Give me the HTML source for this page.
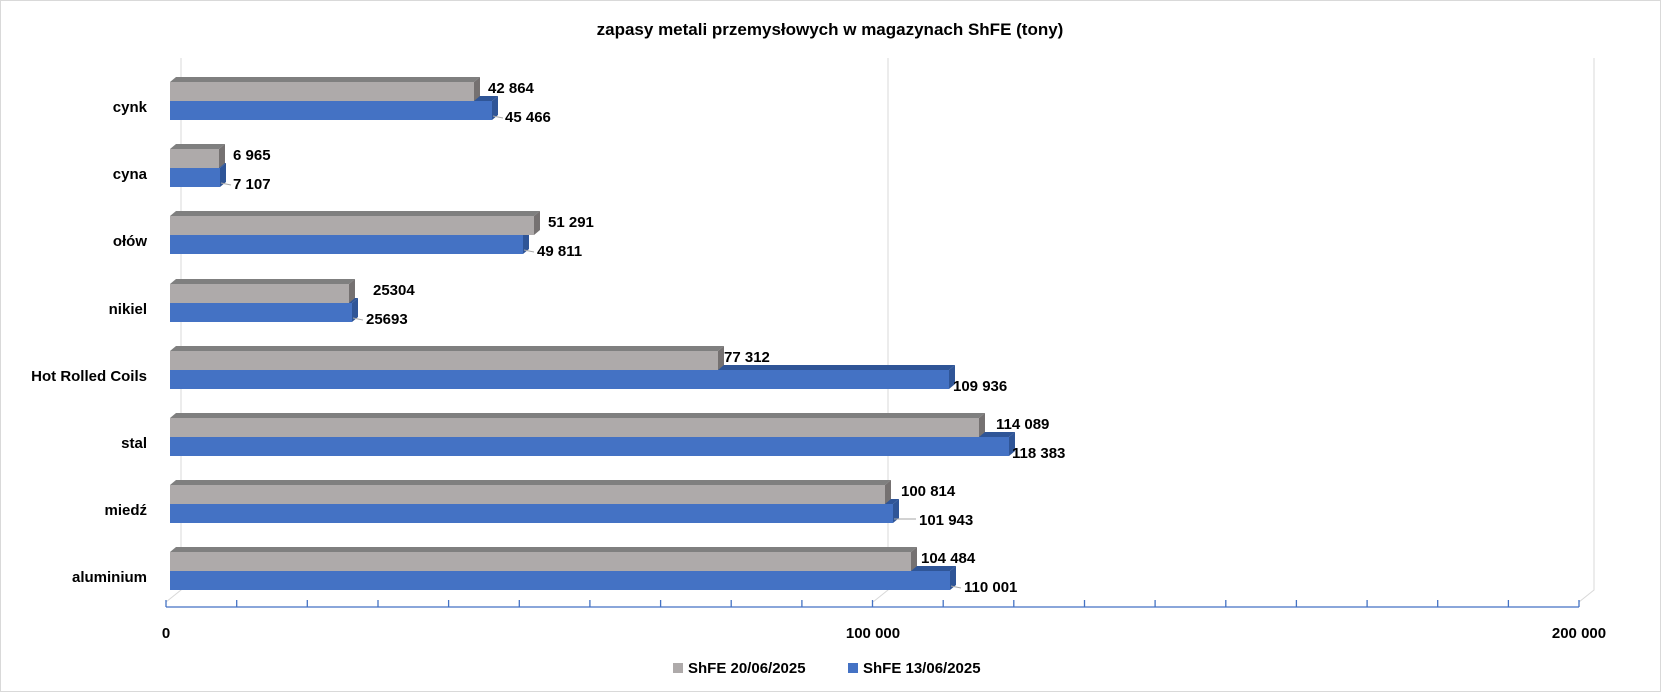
<!DOCTYPE html>
<html><head><meta charset="utf-8"><style>
html,body{margin:0;padding:0;background:#fff}
svg{display:block}
text{font-family:"Liberation Sans",Arial,sans-serif;font-weight:bold;fill:#000}
</style></head><body>
<svg width="1661" height="692" viewBox="0 0 1661 692" xmlns="http://www.w3.org/2000/svg">
<rect x="0.5" y="0.5" width="1660" height="691" fill="#fff" stroke="#d9d9d9"/>
<text x="830" y="35" font-size="17" text-anchor="middle">zapasy metali przemysłowych w magazynach ShFE (tony)</text>
<g stroke="#d9d9d9" stroke-width="1" fill="none">
<polyline points="181,58 181,590 166,602"/>
<polyline points="888,58 888,590 873,602"/>
<polyline points="1594,58 1594,590 1579,602"/>
</g>
<g stroke="#4472C4" stroke-width="1.3">
<line x1="166" y1="607" x2="1579" y2="607"/>
<line x1="166" y1="600" x2="166" y2="607"/><line x1="236.7" y1="600" x2="236.7" y2="607"/><line x1="307.3" y1="600" x2="307.3" y2="607"/><line x1="378" y1="600" x2="378" y2="607"/><line x1="448.6" y1="600" x2="448.6" y2="607"/><line x1="519.3" y1="600" x2="519.3" y2="607"/><line x1="589.9" y1="600" x2="589.9" y2="607"/><line x1="660.6" y1="600" x2="660.6" y2="607"/><line x1="731.2" y1="600" x2="731.2" y2="607"/><line x1="801.9" y1="600" x2="801.9" y2="607"/><line x1="872.5" y1="600" x2="872.5" y2="607"/><line x1="943.2" y1="600" x2="943.2" y2="607"/><line x1="1013.8" y1="600" x2="1013.8" y2="607"/><line x1="1084.5" y1="600" x2="1084.5" y2="607"/><line x1="1155.1" y1="600" x2="1155.1" y2="607"/><line x1="1225.8" y1="600" x2="1225.8" y2="607"/><line x1="1296.4" y1="600" x2="1296.4" y2="607"/><line x1="1367.1" y1="600" x2="1367.1" y2="607"/><line x1="1437.7" y1="600" x2="1437.7" y2="607"/><line x1="1508.4" y1="600" x2="1508.4" y2="607"/><line x1="1579" y1="600" x2="1579" y2="607"/>
</g>
<g font-size="15" text-anchor="middle">
<text x="166" y="638">0</text><text x="873" y="638">100 000</text><text x="1579" y="638">200 000</text>
</g>
<rect x="673" y="663" width="10" height="10" fill="#AEAAAA"/>
<text x="688" y="673" font-size="15">ShFE 20/06/2025</text>
<rect x="848" y="663" width="10" height="10" fill="#4472C4"/>
<text x="863" y="673" font-size="15">ShFE 13/06/2025</text>

<!-- bars: t, G, B -->
<g id="bars"></g>
<g font-size="15" text-anchor="end">
<text x="147" y="112">cynk</text>
<text x="147" y="179">cyna</text>
<text x="147" y="246">ołów</text>
<text x="147" y="314">nikiel</text>
<text x="147" y="381">Hot Rolled Coils</text>
<text x="147" y="448">stal</text>
<text x="147" y="515">miedź</text>
<text x="147" y="582">aluminium</text>
</g>

<!-- cynk t=77 G=474 B=492 -->
<g>
<polygon points="170,101 176,96 498,96 492,101" fill="#2F5597"/>
<polygon points="492,101 498,96 498,115 492,120" fill="#2F5597"/>
<rect x="170" y="101" width="322" height="19" fill="#4472C4"/>
<polygon points="170,82 176,77 480,77 474,82" fill="#7F7F7F"/>
<polygon points="474,82 480,77 480,96 474,101" fill="#757171"/>
<rect x="170" y="82" width="304" height="19" fill="#AEAAAA"/>
<text x="488" y="93" font-size="15">42 864</text>
<line x1="493" y1="116" x2="503" y2="118" stroke="#a6a6a6"/>
<text x="505" y="122" font-size="15">45 466</text>
</g>
<!-- cyna t=144 G=219 B=220 -->
<g>
<polygon points="170,168 176,163 226,163 220,168" fill="#2F5597"/>
<polygon points="220,168 226,163 226,182 220,187" fill="#2F5597"/>
<rect x="170" y="168" width="50" height="19" fill="#4472C4"/>
<polygon points="170,149 176,144 225,144 219,149" fill="#7F7F7F"/>
<polygon points="219,149 225,144 225,163 219,168" fill="#757171"/>
<rect x="170" y="149" width="49" height="19" fill="#AEAAAA"/>
<text x="233" y="160" font-size="15">6 965</text>
<line x1="221" y1="183" x2="231" y2="185" stroke="#a6a6a6"/>
<text x="233" y="189" font-size="15">7 107</text>
</g>
<!-- olow t=211 G=534 B=523 -->
<g>
<polygon points="170,235 176,230 529,230 523,235" fill="#2F5597"/>
<polygon points="523,235 529,230 529,249 523,254" fill="#2F5597"/>
<rect x="170" y="235" width="353" height="19" fill="#4472C4"/>
<polygon points="170,216 176,211 540,211 534,216" fill="#7F7F7F"/>
<polygon points="534,216 540,211 540,230 534,235" fill="#757171"/>
<rect x="170" y="216" width="364" height="19" fill="#AEAAAA"/>
<text x="548" y="227" font-size="15">51 291</text>
<line x1="524" y1="250" x2="534" y2="252" stroke="#a6a6a6"/>
<text x="537" y="256" font-size="15">49 811</text>
</g>
<!-- nikiel t=279 G=349 B=352 -->
<g>
<polygon points="170,303 176,298 358,298 352,303" fill="#2F5597"/>
<polygon points="352,303 358,298 358,317 352,322" fill="#2F5597"/>
<rect x="170" y="303" width="182" height="19" fill="#4472C4"/>
<polygon points="170,284 176,279 355,279 349,284" fill="#7F7F7F"/>
<polygon points="349,284 355,279 355,298 349,303" fill="#757171"/>
<rect x="170" y="284" width="179" height="19" fill="#AEAAAA"/>
<text x="373" y="295" font-size="15">25304</text>
<line x1="353" y1="318" x2="363" y2="320" stroke="#a6a6a6"/>
<text x="366" y="324" font-size="15">25693</text>
</g>
<!-- HRC t=346 G=718 B=949 -->
<g>
<polygon points="170,370 176,365 955,365 949,370" fill="#2F5597"/>
<polygon points="949,370 955,365 955,384 949,389" fill="#2F5597"/>
<rect x="170" y="370" width="779" height="19" fill="#4472C4"/>
<polygon points="170,351 176,346 724,346 718,351" fill="#7F7F7F"/>
<polygon points="718,351 724,346 724,365 718,370" fill="#757171"/>
<rect x="170" y="351" width="548" height="19" fill="#AEAAAA"/>
<text x="724" y="362" font-size="15">77 312</text>
<text x="953" y="391" font-size="15">109 936</text>
</g>
<!-- stal t=413 G=979 B=1009 -->
<g>
<polygon points="170,437 176,432 1015,432 1009,437" fill="#2F5597"/>
<polygon points="1009,437 1015,432 1015,451 1009,456" fill="#2F5597"/>
<rect x="170" y="437" width="839" height="19" fill="#4472C4"/>
<polygon points="170,418 176,413 985,413 979,418" fill="#7F7F7F"/>
<polygon points="979,418 985,413 985,432 979,437" fill="#757171"/>
<rect x="170" y="418" width="809" height="19" fill="#AEAAAA"/>
<text x="996" y="429" font-size="15">114 089</text>
<text x="1012" y="458" font-size="15">118 383</text>
</g>
<!-- miedz t=480 G=885 B=893 -->
<g>
<polygon points="170,504 176,499 899,499 893,504" fill="#2F5597"/>
<polygon points="893,504 899,499 899,518 893,523" fill="#2F5597"/>
<rect x="170" y="504" width="723" height="19" fill="#4472C4"/>
<polygon points="170,485 176,480 891,480 885,485" fill="#7F7F7F"/>
<polygon points="885,485 891,480 891,499 885,504" fill="#757171"/>
<rect x="170" y="485" width="715" height="19" fill="#AEAAAA"/>
<text x="901" y="496" font-size="15">100 814</text>
<line x1="894" y1="519" x2="916" y2="519" stroke="#a6a6a6"/>
<text x="919" y="525" font-size="15">101 943</text>
</g>
<!-- aluminium t=547 G=911 B=950 -->
<g>
<polygon points="170,571 176,566 956,566 950,571" fill="#2F5597"/>
<polygon points="950,571 956,566 956,585 950,590" fill="#2F5597"/>
<rect x="170" y="571" width="780" height="19" fill="#4472C4"/>
<polygon points="170,552 176,547 917,547 911,552" fill="#7F7F7F"/>
<polygon points="911,552 917,547 917,566 911,571" fill="#757171"/>
<rect x="170" y="552" width="741" height="19" fill="#AEAAAA"/>
<text x="921" y="563" font-size="15">104 484</text>
<line x1="951" y1="586" x2="961" y2="588" stroke="#a6a6a6"/>
<text x="964" y="592" font-size="15">110 001</text>
</g>
</svg>
</body></html>
